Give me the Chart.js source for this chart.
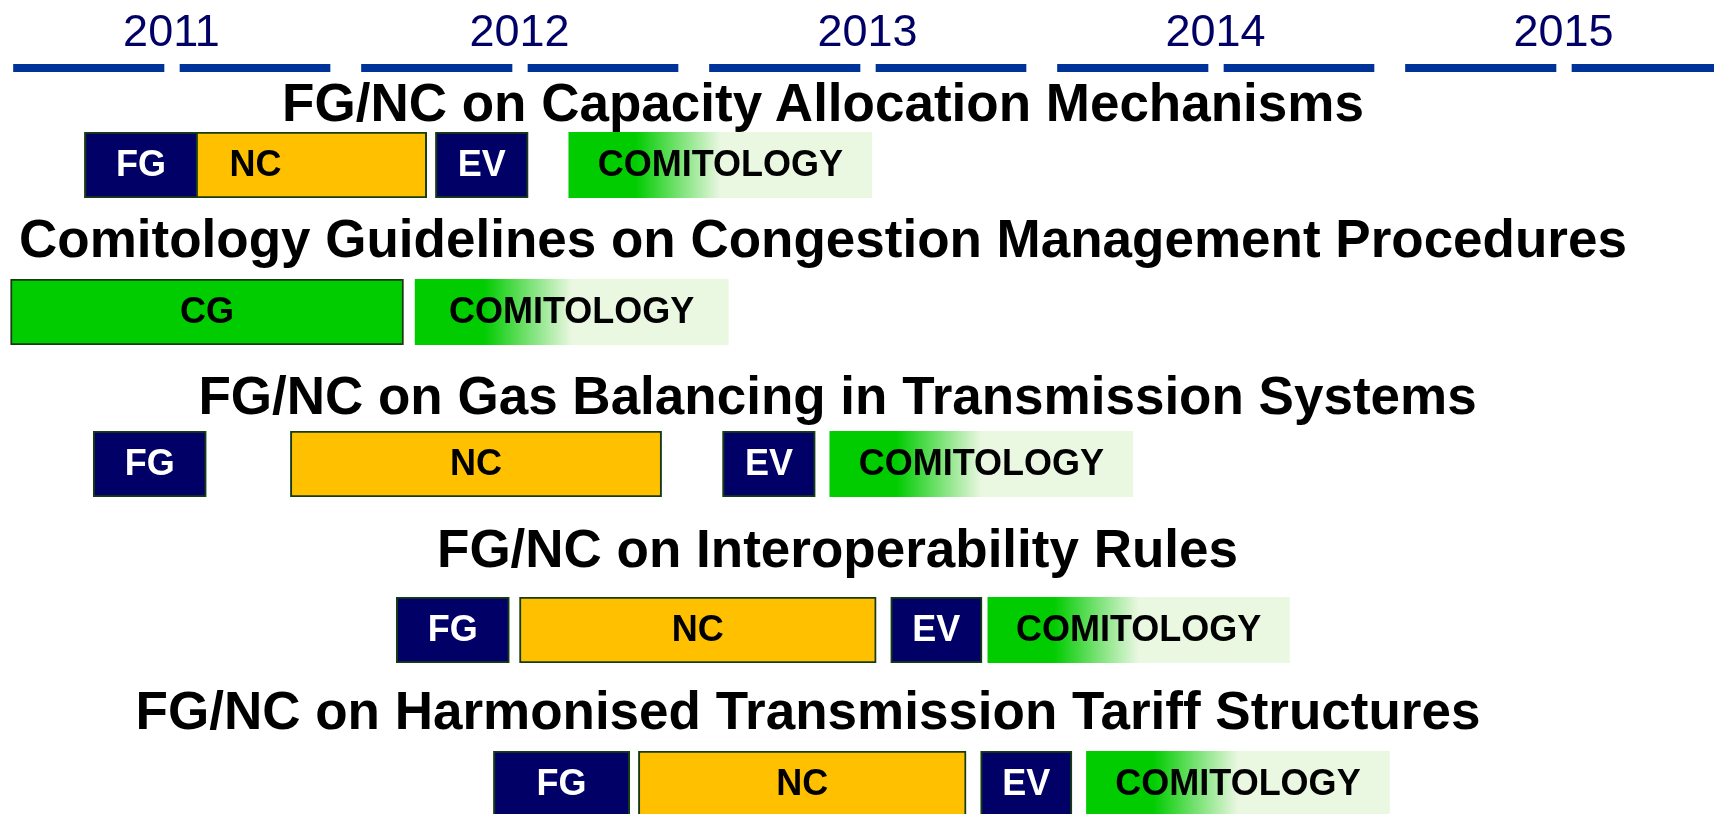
<!DOCTYPE html>
<html lang="en">
<head>
<meta charset="utf-8">
<title>FG / NC timeline</title>
<script src="https://cdn.jsdelivr.net/npm/chart.js@4.4.1/dist/chart.umd.min.js"></script>
<style>
    html, body { margin: 0; padding: 0; background: #fff; overflow: hidden; }
    #page { position: relative; width: 1714px; height: 814px; overflow: hidden; background: #fff; }
    #page canvas { position: absolute; left: 0; }
    .row-title {
        position: absolute;
        margin: 0;
        white-space: nowrap;
        font: bold 53px/53px "Liberation Sans", Arial, sans-serif;
        color: #000;
        transform: translateX(-50%);
    }
</style>
</head>
<body>
<div id="page"></div>
<script>
const YEARS = ['2011', '2012', '2013', '2014', '2015'];

const TITLES = [
    'FG/NC on Capacity Allocation Mechanisms',
    'Comitology Guidelines on Congestion Management Procedures',
    'FG/NC on Gas Balancing in Transmission Systems',
    'FG/NC on Interoperability Rules',
    'FG/NC on Harmonised Transmission Tariff Structures'
];

// drawn in this order (in the first row the NC box sits behind FG)
const STAGES = [
    ['NC', 'FG', 'EV', 'COMITOLOGY'],
    ['CG', 'COMITOLOGY'],
    ['FG', 'NC', 'EV', 'COMITOLOGY'],
    ['FG', 'NC', 'EV', 'COMITOLOGY'],
    ['FG', 'NC', 'EV', 'COMITOLOGY']
];

// months after 1 January 2011
const STAGE_START = [
    [3.0, 3.0, 15.1, 19.7],
    [0.45, 14.4],
    [3.3, 10.1, 25.0, 28.7],
    [13.75, 18.0, 30.8, 34.15],
    [17.1, 22.1, 33.9, 37.55]
];
const STAGE_END = [
    [14.8, 6.9, 18.3, 30.15],
    [14.0, 25.2],
    [7.2, 22.9, 28.2, 39.15],
    [17.65, 30.3, 33.95, 44.55],
    [21.8, 33.4, 37.05, 48.0]
];

// layout
const PAGE_W = 1714;
const X_MIN = 0.086;
const X_MAX = 59.19;
const ROW_TOP = [132, 279, 431, 597, 751];
const ROW_H = 66;
const TITLE_BASELINE = [120.7, 257.3, 413.5, 566.7, 729];
const TITLE_CENTER = [823, 823, 837.5, 837.5, 808];
const TITLE_ASCENT = 45;

const FONT = '"Liberation Sans", Arial, Helvetica, sans-serif';
const FILL = { FG: '#000066', EV: '#000066', NC: '#ffc000', CG: '#00cc00' };
const TEXT = { FG: '#ffffff', EV: '#ffffff', NC: '#000000', CG: '#000000', COMITOLOGY: '#000000' };

Chart.defaults.font.family = FONT;

const page = document.getElementById('page');

function addCanvas(top, height) {
    const c = document.createElement('canvas');
    c.width = PAGE_W;
    c.height = height;
    c.style.top = top + 'px';
    page.appendChild(c);
    return c;
}

function comitologyFill(chart, start, end) {
    const x = chart.scales.x;
    const g = chart.ctx.createLinearGradient(x.getPixelForValue(start), 0, x.getPixelForValue(end), 0);
    g.addColorStop(0, '#00cc00');
    g.addColorStop(0.22, '#00cc00');
    g.addColorStop(0.5, '#eaf7e1');
    g.addColorStop(1, '#eaf7e1');
    return g;
}

const stageLabels = {
    id: 'stageLabels',
    afterDatasetsDraw(chart) {
        const ctx = chart.ctx;
        const row = chart.options.rowIndex;
        ctx.save();
        ctx.font = 'bold 36px ' + FONT;
        ctx.textAlign = 'center';
        ctx.textBaseline = 'middle';
        chart.getDatasetMeta(0).data.forEach((bar, i) => {
            const stage = STAGES[row][i];
            ctx.fillStyle = TEXT[stage];
            ctx.fillText(stage, (bar.x + bar.base) / 2, bar.y + 1);
        });
        ctx.restore();
    }
};

function makeTimeline() {
    // tall enough that the year axis is not squeezed
    const canvas = addCanvas(0, 140);
    const halves = [];
    YEARS.forEach((year, i) => {
        halves.push({ x: [i * 12, i * 12 + 6], y: 'year' });
        halves.push({ x: [i * 12 + 6, i * 12 + 12], y: 'year' });
    });
    new Chart(canvas, {
        type: 'bar',
        data: {
            datasets: [{
                data: halves,
                backgroundColor: '#003399',
                borderColor: '#ffffff',
                borderSkipped: false,
                // white gaps between half years
                borderWidth: c => c.dataIndex % 2 === 0
                    ? { left: 16, right: 7.5, top: 0, bottom: 0 }
                    : { left: 8.5, right: 15.5, top: 0, bottom: 0 },
                barThickness: 8,
                clip: false
            }]
        },
        options: {
            indexAxis: 'y',
            responsive: false,
            animation: false,
            events: [],
            scales: {
                x: {
                    type: 'linear',
                    position: 'top',
                    min: X_MIN,
                    max: X_MAX,
                    grid: { display: false, drawTicks: false },
                    border: { display: false },
                    afterBuildTicks: axis => {
                        axis.ticks = YEARS.map((y, i) => ({ value: i * 12 + 6 }));
                    },
                    ticks: {
                        autoSkip: false,
                        maxRotation: 0,
                        padding: 7,
                        color: '#000066',
                        font: { size: 45 },
                        callback: (v, i) => YEARS[i]
                    }
                },
                y: { type: 'category', labels: ['year', ''], offset: false, display: false }
            },
            plugins: { legend: { display: false }, tooltip: { enabled: false } }
        }
    });
}

function makeRow(r) {
    const canvas = addCanvas(ROW_TOP[r], ROW_H);
    const points = STAGES[r].map((s, i) => ({ x: [STAGE_START[r][i], STAGE_END[r][i]], y: 'row' }));
    new Chart(canvas, {
        type: 'bar',
        data: {
            datasets: [{
                data: points,
                backgroundColor: c => {
                    const stage = STAGES[r][c.dataIndex];
                    if (stage !== 'COMITOLOGY') return FILL[stage];
                    return comitologyFill(c.chart, STAGE_START[r][c.dataIndex], STAGE_END[r][c.dataIndex]);
                },
                borderColor: '#163d12',
                borderWidth: c => STAGES[r][c.dataIndex] === 'COMITOLOGY' ? 0 : 2,
                borderSkipped: false,
                barPercentage: 1,
                categoryPercentage: 1
            }]
        },
        options: {
            rowIndex: r,
            indexAxis: 'y',
            responsive: false,
            animation: false,
            events: [],
            scales: {
                x: { type: 'linear', min: X_MIN, max: X_MAX, display: false },
                y: { type: 'category', labels: ['row'], display: false }
            },
            plugins: { legend: { display: false }, tooltip: { enabled: false } }
        },
        plugins: [stageLabels]
    });
}

function addTitles() {
    TITLES.forEach((t, i) => {
        const d = document.createElement('div');
        d.className = 'row-title';
        d.textContent = t;
        d.style.left = TITLE_CENTER[i] + 'px';
        d.style.top = (TITLE_BASELINE[i] - TITLE_ASCENT) + 'px';
        page.appendChild(d);
    });
}

makeTimeline();
TITLES.forEach((t, i) => makeRow(i));
addTitles();
</script>
</body>
</html>
